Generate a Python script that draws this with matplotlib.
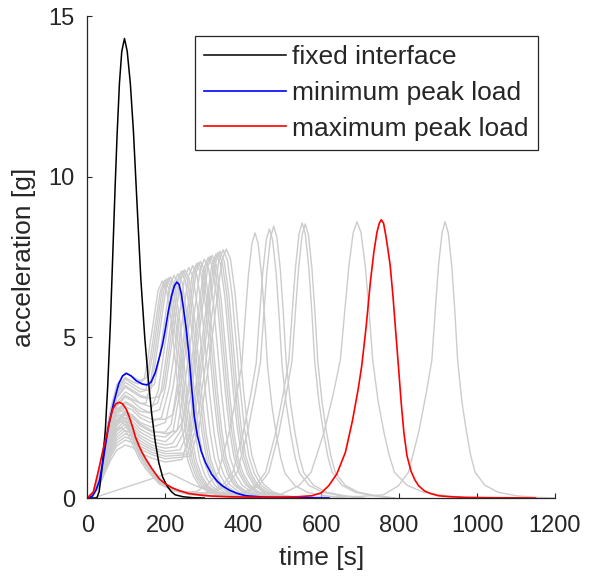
import matplotlib
matplotlib.use('Agg')
import matplotlib.pyplot as plt

# fixed interface (black)
fixed_t = [0, 24, 30, 38, 46, 52, 59, 65, 71, 76, 82, 88, 95, 102, 110, 118, 127, 137, 147, 156,
           165, 174, 183, 193, 204, 215, 225, 245, 270, 300]
fixed_y = [0, 0, 0.2, 1.0, 2.15, 3.5, 5.5, 7.6, 9.7, 11.3, 12.9, 13.9, 14.3, 13.9, 12.9, 11.4, 9.2, 6.8, 5.0, 3.7,
           2.6, 1.75, 1.1, 0.65, 0.38, 0.2, 0.1, 0.04, 0.01, 0]

# minimum peak load (blue)
min_t = [0, 12, 22, 31, 40, 46, 55, 67, 80, 90, 100, 112, 125, 140, 152, 163, 174, 185, 193, 200,
         208, 216, 223, 229, 235, 241, 247, 253, 260, 267, 274, 282, 292, 303, 318, 333, 346, 365, 385, 406,
         450, 520, 620]
min_y = [0, 0.05, 0.25, 0.55, 1.15, 1.63, 2.3, 2.95, 3.55, 3.8, 3.88, 3.8, 3.65, 3.55, 3.52, 3.6, 3.9, 4.4, 4.8, 5.26,
         5.85, 6.3, 6.6, 6.72, 6.65, 6.35, 5.85, 5.3, 4.5, 3.5, 2.56, 1.95, 1.45, 1.1, 0.75, 0.52, 0.38, 0.24, 0.14, 0.07,
         0.03, 0.01, 0]

# maximum peak load (red)
max_t = [0, 15, 29, 40, 50, 58, 65, 73, 82, 90, 100, 108, 116, 123, 133, 141, 150, 165, 184, 200,
         217, 235, 260, 290, 320, 360, 400, 450, 500, 540, 576, 600, 619, 640, 662, 680, 695, 704, 715, 726,
         735, 743, 749, 754, 760, 766, 771, 777, 784, 791, 798, 805, 812, 820, 830, 840, 850, 865, 880, 901,
         930, 970, 1030, 1100, 1150]
max_y = [0, 0.18, 0.9, 1.5, 2.0, 2.45, 2.77, 2.93, 2.98, 2.93, 2.75, 2.5, 2.2, 1.9, 1.6, 1.4, 1.21, 0.92, 0.6, 0.44,
         0.32, 0.23, 0.14, 0.09, 0.06, 0.04, 0.03, 0.025, 0.03, 0.04, 0.07, 0.16, 0.38, 0.75, 1.42, 2.4, 3.4, 4.12, 5.3, 6.71,
         7.65, 8.27, 8.55, 8.66, 8.55, 8.15, 7.75, 7.23, 6.3, 5.2, 4.12, 3.0, 2.05, 1.32, 0.85, 0.57, 0.38, 0.22, 0.14, 0.07,
         0.04, 0.02, 0.01, 0.005, 0]

# all other load cases (grey)
grey_t = [
    [0, 15, 30, 45, 60, 75, 97, 115, 130, 146, 157, 170, 181, 192, 203, 215, 225, 236, 247, 258, 272, 288, 312, 342, 392],
    [0, 15, 30, 45, 60, 75, 97, 115, 135, 152, 163, 176, 187, 198, 209, 221, 231, 242, 253, 264, 278, 294, 318, 348, 398],
    [0, 15, 30, 45, 60, 75, 97, 115, 135, 150, 168, 181, 192, 203, 214, 226, 236, 247, 258, 269, 283, 299, 323, 353, 403],
    [0, 15, 30, 45, 60, 75, 97, 115, 135, 150, 158, 173, 186, 197, 208, 219, 231, 241, 252, 263, 274, 288, 304, 328, 358, 408],
    [0, 15, 30, 45, 60, 75, 97, 115, 135, 150, 163, 178, 191, 202, 213, 224, 236, 246, 257, 268, 279, 293, 309, 333, 363, 413],
    [0, 15, 30, 45, 60, 75, 97, 115, 135, 155, 172, 187, 200, 211, 222, 233, 245, 255, 266, 277, 288, 302, 318, 342, 372, 422],
    [0, 15, 30, 45, 60, 75, 97, 115, 135, 160, 182, 197, 210, 221, 232, 243, 255, 265, 276, 287, 298, 312, 328, 352, 382, 432],
    [0, 15, 30, 45, 60, 75, 97, 115, 135, 160, 180, 190, 205, 218, 229, 240, 251, 263, 273, 284, 295, 306, 320, 336, 360, 390, 440],
    [0, 15, 30, 45, 60, 75, 97, 115, 135, 160, 182, 195, 210, 223, 234, 245, 256, 268, 278, 289, 300, 311, 325, 341, 365, 395, 445],
    [0, 15, 30, 45, 60, 75, 97, 115, 135, 160, 185, 200, 215, 228, 239, 250, 261, 273, 283, 294, 305, 316, 330, 346, 370, 400, 450],
    [0, 15, 30, 45, 60, 75, 97, 115, 135, 160, 190, 210, 225, 238, 249, 260, 271, 283, 293, 304, 315, 326, 340, 356, 380, 410, 460],
    [0, 15, 30, 45, 60, 75, 97, 115, 135, 165, 200, 220, 235, 248, 259, 270, 281, 293, 303, 314, 325, 336, 350, 366, 390, 420, 470],
    [0, 15, 30, 45, 60, 75, 97, 115, 135, 165, 200, 215, 230, 245, 258, 269, 280, 291, 303, 313, 324, 335, 346, 360, 376, 400, 430, 480],
    [0, 15, 30, 45, 60, 75, 97, 115, 135, 165, 200, 220, 235, 250, 263, 274, 285, 296, 308, 318, 329, 340, 351, 365, 381, 405, 435, 485],
    [0, 15, 30, 45, 60, 75, 97, 115, 135, 165, 200, 220, 240, 255, 268, 279, 290, 301, 313, 323, 334, 345, 356, 370, 386, 410, 440, 490],
    [0, 15, 30, 45, 60, 75, 97, 115, 135, 165, 200, 230, 250, 265, 278, 289, 300, 311, 323, 333, 344, 355, 366, 380, 396, 420, 450, 500],
    [0, 15, 30, 45, 60, 75, 97, 115, 135, 165, 200, 218, 240, 260, 275, 288, 299, 310, 321, 333, 343, 354, 365, 376, 390, 406, 430, 460, 510],
    [0, 15, 30, 45, 60, 75, 97, 115, 135, 165, 200, 230, 245, 265, 280, 293, 304, 315, 326, 338, 348, 359, 370, 381, 395, 411, 435, 465, 515],
    [0, 15, 30, 45, 60, 75, 97, 115, 135, 165, 200, 228, 250, 270, 285, 298, 309, 320, 331, 343, 353, 364, 375, 386, 400, 416, 440, 470, 520],
    [0, 15, 30, 45, 60, 75, 97, 115, 135, 165, 200, 238, 260, 280, 295, 308, 319, 330, 341, 353, 363, 374, 385, 396, 410, 426, 450, 480, 530],
    [0, 15, 30, 45, 60, 75, 97, 115, 135, 165, 200, 243, 265, 285, 300, 313, 324, 335, 346, 358, 368, 379, 390, 401, 415, 431, 455, 485, 535],
    [0, 15, 30, 45, 60, 75, 97, 115, 135, 165, 200, 248, 270, 290, 305, 318, 329, 340, 351, 363, 373, 384, 395, 406, 420, 436, 460, 490, 540],
    [0, 15, 30, 45, 60, 75, 97, 115, 135, 165, 200, 256, 278, 298, 313, 326, 337, 348, 359, 371, 381, 392, 403, 414, 428, 444, 468, 498, 548],
    [0, 15, 30, 45, 60, 75, 97, 115, 135, 165, 200, 264, 286, 306, 321, 334, 345, 356, 367, 379, 389, 400, 411, 422, 436, 452, 476, 506, 556],
    [0, 15, 30, 45, 60, 72, 85, 100, 116, 133, 150, 184, 217, 250, 280, 310, 336, 362, 382, 396,
     405, 413, 422, 430, 438, 447, 455, 462, 473, 485, 496, 507, 532, 566, 612, 662],
    [0, 15, 30, 45, 60, 72, 85, 100, 116, 133, 150, 184, 217, 260, 309, 347, 373, 399, 419, 433,
     442, 450, 459, 467, 475, 484, 492, 499, 510, 522, 533, 544, 569, 603, 649, 699],
    [0, 15, 30, 45, 60, 72, 85, 100, 116, 133, 150, 184, 217, 260, 320, 358, 384, 410, 430, 444,
     453, 461, 470, 478, 486, 495, 503, 510, 521, 533, 544, 555, 580, 614, 660, 710],
    [0, 15, 30, 45, 60, 72, 85, 100, 116, 133, 150, 184, 217, 260, 320, 393, 431, 457, 483, 503,
     517, 526, 534, 543, 551, 559, 568, 576, 583, 594, 606, 617, 628, 653, 687, 733, 783],
    [0, 15, 30, 45, 60, 72, 85, 100, 116, 133, 150, 184, 217, 260, 320, 401, 439, 465, 491, 511,
     525, 534, 542, 551, 559, 567, 576, 584, 591, 602, 614, 625, 636, 661, 695, 741, 791],
    [0, 15, 30, 45, 60, 72, 85, 100, 116, 133, 150, 184, 217, 260, 320, 400, 494, 542, 574, 607,
     632, 649, 661, 671, 682, 692, 702, 713, 723, 732, 746, 761, 775, 788, 820, 862, 920, 982],
    [15, 210, 240, 270, 300, 340, 400, 480, 600, 700, 760, 798, 824, 850, 870, 884, 893, 901, 910, 918,
     926, 935, 943, 950, 961, 973, 984, 995, 1020, 1054, 1100, 1150, 1200],
]
grey_y = [
    [0, 0.19, 0.83, 1.8, 2.7, 3.38, 3.75, 3.62, 3.55, 3.7, 4.5, 5.55, 6.45, 6.75, 6.48, 5.54, 4.32, 2.97, 1.89, 1.15, 0.68, 0.37, 0.17, 0.07, 0],
    [0, 0.2, 0.86, 1.87, 2.81, 3.51, 3.9, 3.78, 3.65, 3.75, 4.48, 5.56, 6.44, 6.78, 6.51, 5.56, 4.34, 2.98, 1.9, 1.15, 0.68, 0.37, 0.17, 0.07, 0],
    [0, 0.18, 0.79, 1.73, 2.59, 3.24, 3.6, 3.46, 3.3, 3.35, 4.5, 5.59, 6.51, 6.82, 6.55, 5.59, 4.36, 3.0, 1.91, 1.16, 0.68, 0.38, 0.17, 0.07, 0],
    [0, 0.16, 0.7, 1.54, 2.3, 2.88, 3.2, 3.07, 2.95, 2.95, 3.3, 4.52, 5.62, 6.54, 6.85, 6.58, 5.62, 4.38, 3.01, 1.92, 1.16, 0.69, 0.38, 0.17, 0.07, 0],
    [0, 0.17, 0.76, 1.66, 2.48, 3.1, 3.45, 3.31, 3.15, 3.1, 3.4, 4.54, 5.64, 6.57, 6.88, 6.6, 5.64, 4.4, 3.03, 1.93, 1.17, 0.69, 0.38, 0.17, 0.07, 0],
    [0, 0.19, 0.81, 1.78, 2.66, 3.33, 3.7, 3.55, 3.4, 3.35, 3.55, 4.57, 5.68, 6.62, 6.93, 6.65, 5.68, 4.44, 3.05, 1.94, 1.18, 0.69, 0.38, 0.17, 0.07, 0],
    [0, 0.15, 0.66, 1.44, 2.16, 2.7, 3.0, 2.88, 2.7, 2.65, 3.35, 4.61, 5.72, 6.67, 6.98, 6.7, 5.72, 4.47, 3.07, 1.95, 1.19, 0.7, 0.38, 0.17, 0.07, 0],
    [0, 0.17, 0.73, 1.58, 2.38, 2.97, 3.3, 3.17, 2.95, 2.85, 2.95, 3.38, 4.65, 5.78, 6.73, 7.05, 6.77, 5.78, 4.51, 3.1, 1.97, 1.2, 0.71, 0.39, 0.18, 0.07, 0],
    [0, 0.18, 0.77, 1.68, 2.52, 3.15, 3.5, 3.36, 3.2, 3.1, 3.15, 3.4, 4.67, 5.81, 6.76, 7.08, 6.8, 5.81, 4.53, 3.12, 1.98, 1.2, 0.71, 0.39, 0.18, 0.07, 0],
    [0, 0.16, 0.69, 1.51, 2.27, 2.84, 3.15, 3.02, 2.8, 2.65, 2.75, 3.41, 4.69, 5.82, 6.78, 7.1, 6.82, 5.82, 4.54, 3.12, 1.99, 1.21, 0.71, 0.39, 0.18, 0.07, 0],
    [0, 0.14, 0.63, 1.37, 2.05, 2.57, 2.85, 2.74, 2.5, 2.35, 2.5, 3.44, 4.73, 5.88, 6.85, 7.17, 6.88, 5.88, 4.59, 3.15, 2.01, 1.22, 0.72, 0.39, 0.18, 0.07, 0],
    [0, 0.14, 0.59, 1.3, 1.94, 2.43, 2.7, 2.59, 2.35, 2.2, 2.35, 3.47, 4.77, 5.93, 6.9, 7.23, 6.94, 5.93, 4.63, 3.18, 2.02, 1.23, 0.72, 0.4, 0.18, 0.07, 0],
    [0, 0.13, 0.57, 1.25, 1.87, 2.34, 2.6, 2.5, 2.25, 2.05, 2.05, 2.3, 3.5, 4.82, 5.99, 6.97, 7.3, 7.01, 5.99, 4.67, 3.21, 2.04, 1.24, 0.73, 0.4, 0.18, 0.07, 0],
    [0, 0.15, 0.65, 1.42, 2.12, 2.66, 2.95, 2.83, 2.6, 2.45, 2.45, 2.6, 3.52, 4.84, 6.01, 7.0, 7.33, 7.04, 6.01, 4.69, 3.23, 2.05, 1.25, 0.73, 0.4, 0.18, 0.07, 0],
    [0, 0.13, 0.55, 1.2, 1.8, 2.25, 2.5, 2.4, 2.15, 1.95, 1.9, 2.1, 3.53, 4.86, 6.04, 7.03, 7.36, 7.07, 6.04, 4.71, 3.24, 2.06, 1.25, 0.74, 0.4, 0.18, 0.07, 0],
    [0, 0.12, 0.53, 1.15, 1.73, 2.16, 2.4, 2.3, 2.05, 1.85, 1.75, 2.1, 3.57, 4.9, 6.09, 7.1, 7.43, 7.13, 6.09, 4.76, 3.27, 2.08, 1.26, 0.74, 0.41, 0.19, 0.07, 0],
    [0, 0.12, 0.51, 1.1, 1.66, 2.07, 2.3, 2.21, 1.95, 1.75, 1.65, 1.7, 2.1, 3.6, 4.94, 6.14, 7.15, 7.49, 7.19, 6.14, 4.79, 3.3, 2.1, 1.27, 0.75, 0.41, 0.19, 0.07, 0],
    [0, 0.13, 0.58, 1.27, 1.91, 2.39, 2.65, 2.54, 2.3, 2.1, 2.0, 2.1, 2.4, 3.61, 4.96, 6.17, 7.18, 7.52, 7.22, 6.17, 4.81, 3.31, 2.11, 1.28, 0.75, 0.41, 0.19, 0.08, 0],
    [0, 0.11, 0.48, 1.06, 1.58, 1.98, 2.2, 2.11, 1.87, 1.65, 1.55, 1.6, 2.11, 3.62, 4.98, 6.19, 7.21, 7.55, 7.25, 6.19, 4.83, 3.32, 2.11, 1.28, 0.76, 0.42, 0.19, 0.08, 0],
    [0, 0.11, 0.46, 1.01, 1.51, 1.89, 2.1, 2.02, 1.78, 1.57, 1.45, 1.5, 2.13, 3.65, 5.02, 6.23, 7.26, 7.6, 7.3, 6.23, 4.86, 3.34, 2.13, 1.29, 0.76, 0.42, 0.19, 0.08, 0],
    [0, 0.08, 0.36, 0.79, 1.19, 1.49, 1.65, 1.58, 1.4, 1.24, 1.12, 1.2, 2.14, 3.67, 5.04, 6.27, 7.3, 7.64, 7.33, 6.27, 4.89, 3.36, 2.14, 1.3, 0.76, 0.42, 0.19, 0.08, 0],
    [0, 0.1, 0.44, 0.96, 1.44, 1.8, 2.0, 1.92, 1.7, 1.5, 1.38, 1.4, 2.15, 3.69, 5.07, 6.3, 7.33, 7.68, 7.37, 6.3, 4.92, 3.38, 2.15, 1.31, 0.77, 0.42, 0.19, 0.08, 0],
    [0, 0.1, 0.42, 0.91, 1.37, 1.71, 1.9, 1.82, 1.62, 1.42, 1.3, 1.35, 2.16, 3.71, 5.1, 6.33, 7.37, 7.72, 7.41, 6.33, 4.94, 3.4, 2.16, 1.31, 0.77, 0.42, 0.19, 0.08, 0],
    [0, 0.09, 0.4, 0.86, 1.3, 1.62, 1.8, 1.73, 1.53, 1.35, 1.22, 1.3, 2.17, 3.72, 5.12, 6.36, 7.4, 7.75, 7.44, 6.36, 4.96, 3.41, 2.17, 1.32, 0.78, 0.43, 0.19, 0.08, 0],
    [0, 0.18, 0.78, 1.56, 2.24, 2.5, 2.6, 2.42, 1.98, 1.43, 1.07, 0.52, 0.29, 0.19, 0.2, 0.44, 0.8, 1.96, 3.17, 4.13,
     5.66, 6.93, 7.92, 8.25, 7.92, 6.93, 5.56, 4.13, 2.89, 1.96, 1.25, 0.77, 0.39, 0.17, 0.07, 0],
    [0, 0.19, 0.83, 1.65, 2.37, 2.64, 2.75, 2.56, 2.09, 1.51, 1.13, 0.55, 0.3, 0.15, 0.17, 0.4, 0.8, 1.99, 3.21, 4.19,
     5.74, 7.03, 8.04, 8.37, 8.04, 7.03, 5.64, 4.19, 2.93, 1.98, 1.26, 0.78, 0.39, 0.18, 0.07, 0],
    [0, 0.18, 0.75, 1.5, 2.15, 2.4, 2.5, 2.33, 1.9, 1.38, 1.03, 0.5, 0.28, 0.13, 0.16, 0.4, 0.8, 2.0, 3.25, 4.23,
     5.8, 7.11, 8.12, 8.46, 8.12, 7.11, 5.7, 4.23, 2.96, 2.0, 1.28, 0.79, 0.4, 0.18, 0.07, 0],
    [0, 0.2, 0.86, 1.71, 2.45, 2.74, 2.85, 2.65, 2.17, 1.57, 1.17, 0.57, 0.31, 0.14, 0.07, 0.12, 0.38, 0.8, 2.03, 3.29,
     4.28, 5.87, 7.19, 8.22, 8.56, 8.22, 7.19, 5.77, 4.28, 3.0, 2.03, 1.29, 0.8, 0.4, 0.18, 0.07, 0],
    [0, 0.17, 0.72, 1.44, 2.06, 2.3, 2.4, 2.23, 1.82, 1.32, 0.98, 0.48, 0.26, 0.12, 0.06, 0.11, 0.38, 0.79, 2.02, 3.28,
     4.27, 5.85, 7.17, 8.19, 8.53, 8.19, 7.17, 5.75, 4.27, 2.99, 2.02, 1.29, 0.79, 0.4, 0.18, 0.07, 0],
    [0, 0.15, 0.66, 1.32, 1.89, 2.11, 2.2, 2.05, 1.67, 1.21, 0.9, 0.44, 0.24, 0.11, 0.05, 0.03, 0.1, 0.38, 0.8, 2.04,
     3.3, 4.3, 5.9, 7.22, 8.26, 8.6, 8.26, 7.22, 5.8, 4.3, 3.01, 2.04, 1.3, 0.8, 0.4, 0.18, 0.07, 0],
    [0, 0.78, 0.6, 0.42, 0.28, 0.16, 0.08, 0.04, 0.03, 0.05, 0.1, 0.38, 0.8, 2.04, 3.3, 4.3, 5.9, 7.23, 8.25, 8.6,
     8.25, 7.23, 5.8, 4.3, 3.0, 2.04, 1.3, 0.8, 0.4, 0.18, 0.07, 0.02, 0],
]

x_ticks = [0, 200, 400, 600, 800, 1000, 1200]
y_ticks = [0, 5, 10, 15]
legend_labels = ['fixed interface', 'minimum peak load', 'maximum peak load']


def make_figure():
    plt.rcParams['font.family'] = ['Liberation Sans', 'DejaVu Sans']
    text_color = '#262626'

    fig = plt.figure(figsize=(6.0, 5.78), dpi=100)
    ax1 = fig.add_axes([0.1458, 0.1384, 0.7792, 0.8339])

    for tt, yy in zip(grey_t, grey_y):
        ax1.plot(tt, yy, color='0.8', linewidth=1.0, solid_joinstyle='round')

    h1, = ax1.plot(fixed_t, fixed_y, color='black', linewidth=1.1, label=legend_labels[0])
    h2, = ax1.plot(min_t, min_y, color='blue', linewidth=1.2, label=legend_labels[1])
    h3, = ax1.plot(max_t, max_y, color='red', linewidth=1.2, label=legend_labels[2])

    ax1.set_xlim(0, 1200)
    ax1.set_ylim(0, 15)
    ax1.set_xticks(x_ticks)
    ax1.set_yticks(y_ticks)

    # matlab look: box off, ticks inward
    ax1.spines['top'].set_visible(False)
    ax1.spines['right'].set_visible(False)
    for side in ['left', 'bottom']:
        ax1.spines[side].set_color(text_color)
        ax1.spines[side].set_linewidth(0.9)
    ax1.tick_params(axis='both', direction='in', length=3.5, width=0.8, colors=text_color, labelsize=17)
    ax1.tick_params(axis='x', pad=12)
    ax1.tick_params(axis='y', pad=9)

    ax1.set_xlabel('time [s]', fontsize=19, color=text_color, labelpad=7)
    ax1.set_ylabel('acceleration [g]', fontsize=19, color=text_color, labelpad=9)

    leg = ax1.legend(handles=[h1, h2, h3], loc='upper right', bbox_to_anchor=(0.9636, 0.9591),
                     borderaxespad=0, fontsize=19, handlelength=3.1, handletextpad=0.25,
                     borderpad=0.35, labelspacing=0.45, fancybox=False, framealpha=1)
    leg.get_frame().set_edgecolor(text_color)
    leg.get_frame().set_linewidth(0.9)
    for txt in leg.get_texts():
        txt.set_color(text_color)

    fig.savefig('out.png', dpi=100)


if __name__ == '__main__':
    make_figure()
